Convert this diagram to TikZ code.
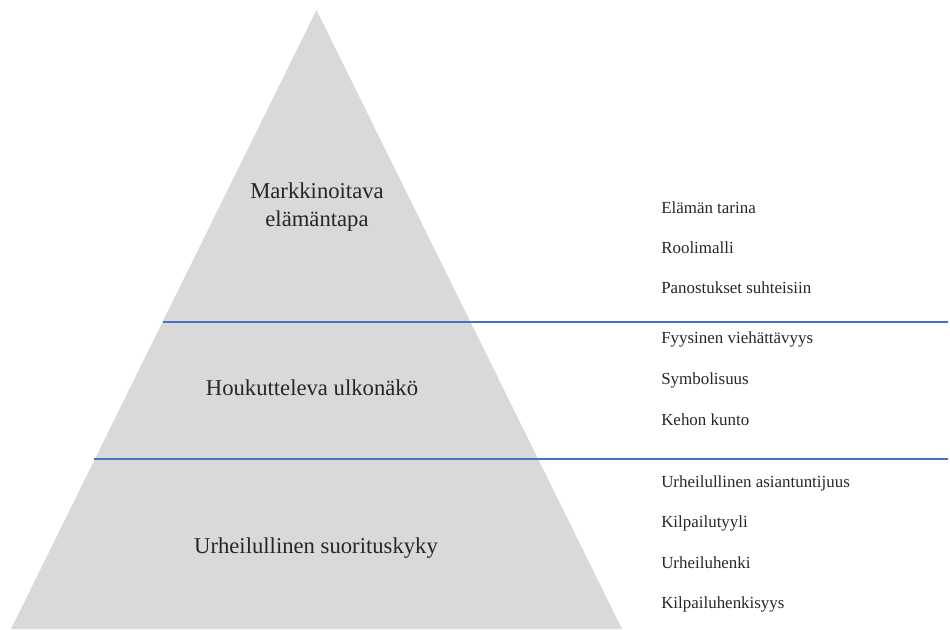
\documentclass[tikz,border=0pt]{standalone}
\usepackage{fontspec}
\setmainfont{Liberation Serif}
\definecolor{pyrgray}{HTML}{D9D9D9}
\definecolor{lineblue}{HTML}{4472C4}
\begin{document}
\begin{tikzpicture}[x=0.75pt,y=-0.75pt,
  mainlbl/.style={anchor=base,align=center,inner sep=0pt,font=\fontsize{17}{24}\selectfont,text=black!85},
  sidelbl/.style={anchor=base west,inner sep=0pt,font=\fontsize{12.7}{14}\selectfont,text=black!85},
  divider/.style={draw=lineblue,line width=0.8pt}]
\useasboundingbox (0,0) rectangle (950,629);
\coordinate (apex) at (316.5,10);
\coordinate (bl) at (11,629);
\coordinate (br) at (622,629);
\fill[pyrgray] (apex) -- (bl) -- (br) -- cycle;
\coordinate (d1a) at (163,322);
\coordinate (d1b) at (948,322);
\coordinate (d2a) at (94,459);
\coordinate (d2b) at (948,459);
\draw[divider] (d1a) -- (d1b);
\draw[divider] (d2a) -- (d2b);
\node[mainlbl] (m1) at (317,198) {Markkinoitava};
\node[mainlbl] (m2) at (317,226) {elämäntapa};
\node[mainlbl] (h) at (312,395) {Houkutteleva ulkonäkö};
\node[mainlbl] (u) at (316,553) {Urheilullinen suorituskyky};
\node[sidelbl] (s1) at (661,213) {Elämän tarina};
\node[sidelbl] (s2) at (661,253) {Roolimalli};
\node[sidelbl] (s3) at (661,293) {Panostukset suhteisiin};
\node[sidelbl] (s4) at (661,343) {Fyysinen viehättävyys};
\node[sidelbl] (s5) at (661,384) {Symbolisuus};
\node[sidelbl] (s6) at (661,425) {Kehon kunto};
\node[sidelbl] (s7) at (661,487) {Urheilullinen asiantuntijuus};
\node[sidelbl] (s8) at (661,527) {Kilpailutyyli};
\node[sidelbl] (s9) at (661,568) {Urheiluhenki};
\node[sidelbl] (s10) at (661,608) {Kilpailuhenkisyys};
\end{tikzpicture}
\end{document}
